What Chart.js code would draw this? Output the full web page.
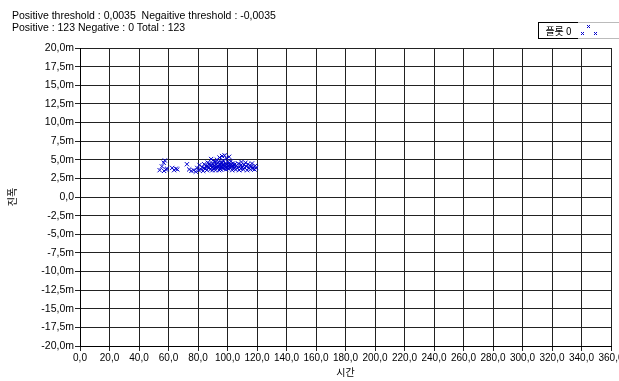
<!DOCTYPE html>
<html><head><meta charset="utf-8">
<script src="https://cdn.jsdelivr.net/npm/chart.js@4/dist/chart.umd.min.js"></script>
<style>
html,body{margin:0;padding:0;background:#fff;width:619px;height:381px;overflow:hidden;}
#wrap{position:relative;width:619px;height:381px;}
canvas{position:absolute;left:0;top:0;}
.hdr{position:absolute;left:12px;font-family:"Liberation Sans",Arial,sans-serif;font-size:10.5px;color:#000;white-space:pre;line-height:12px;}
#leg{position:absolute;left:538px;top:22px;width:39px;height:15px;border:1px solid #000;background:#fff;font-family:"Noto Sans CJK KR","Liberation Sans",sans-serif;font-size:10px;line-height:15px;text-align:center;color:#000;}
#legm{position:absolute;left:578px;top:22px;width:41px;height:15px;border-top:1px solid #bbb;border-bottom:1px solid #bbb;background:#fff;}
</style></head>
<body><div id="wrap">
<canvas id="c" width="619" height="381"></canvas>
<div class="hdr" style="top:9px">Positive threshold : 0,0035  Negaitive threshold : -0,0035</div>
<div class="hdr" style="top:21px">Positive : 123 Negative : 0 Total : 123</div>
<div id="leg">플롯 0</div>
<div id="legm"><svg width="41" height="15"><g stroke="#0000cc" stroke-width="1"><path d="M3 9l3 3M6 9l-3 3M9 2l3 3M12 2l-3 3M16 9l3 3M19 9l-3 3"/></g></svg></div>
</div>
<script>
const xTickLabels = ["0,0","20,0","40,0","60,0","80,0","100,0","120,0","140,0","160,0","180,0","200,0","220,0","240,0","260,0","280,0","300,0","320,0","340,0","360,0"];
const yTickLabels = ["-20,0m","-17,5m","-15,0m","-12,5m","-10,0m","-7,5m","-5,0m","-2,5m","0,0","2,5m","5,0m","7,5m","10,0m","12,5m","15,0m","17,5m","20,0m"];
const seriesName = "플롯 0";
// time (x) values
const timeValues = [
54.0,55.5,56.8,57.5,58.2,57.0,59.0,62.5,63.8,65.0,66.0,
72.5,74.0,75.5,77.0,78.5,79.5,80.5,81.0,
82.0,82.8,83.5,84.2,84.8,85.5,86.0,86.6,87.2,87.8,88.3,88.9,89.4,90.0,90.5,91.0,91.4,91.9,92.3,92.8,93.2,93.7,94.1,94.6,95.0,95.4,95.9,96.3,96.8,97.2,97.6,98.0,98.5,98.9,99.3,99.8,100.2,100.6,101.1,101.5,101.9,102.4,102.8,103.2,103.7,104.1,104.6,105.0,
86.3,88.0,89.8,90.8,92.0,93.5,94.8,95.7,96.5,97.5,98.2,99.1,100.0,100.9,101.8,102.6,103.5,97.0,95.2,93.0,
105.6,106.2,106.8,107.3,107.9,108.4,108.9,109.5,110.0,110.6,111.1,111.7,112.2,112.8,113.3,113.9,114.4,115.0,115.5,116.1,116.6,117.2,117.7,118.3,118.8,119.4,
84.0,87.0,89.0,91.6,94.3,96.0,98.7,100.4,104.4,109.2
];
// amplitude values in milli-units (m)
const amplitudeValues = [
3.6,4.1,4.6,4.9,3.7,3.5,3.8,3.9,3.6,3.8,3.7,
4.4,3.7,3.5,3.6,3.4,3.9,3.6,4.3,
3.7,4.0,3.5,4.4,3.8,4.1,3.6,4.6,3.9,4.3,3.7,5.1,4.0,4.5,3.8,4.8,4.2,3.6,4.4,5.0,3.9,4.6,4.1,5.3,3.8,4.7,4.3,5.5,3.9,4.9,4.2,5.6,4.5,3.7,5.2,4.0,4.7,3.8,5.4,4.3,3.9,4.8,4.1,3.6,4.5,4.0,3.8,4.4,
4.2,4.5,3.6,4.1,4.7,4.2,4.4,4.0,4.6,3.8,4.1,4.4,3.9,4.5,4.1,4.4,4.2,4.3,3.7,4.1,
3.7,4.2,3.9,4.5,3.6,4.1,3.8,4.7,4.0,3.7,4.3,3.9,4.6,4.1,3.6,4.4,3.9,4.2,3.7,4.1,4.5,3.8,4.0,3.7,4.2,3.9,
3.9,4.0,4.2,3.9,3.6,4.1,4.0,4.2,4.3,4.3
];
const points = timeValues.map((t,i)=>({x:t,y:amplitudeValues[i]}));
const tickFont = {family:"Liberation Sans, Arial, sans-serif", size:10.5};
const xTickFont = {family:"Liberation Sans, Arial, sans-serif", size:10};
new Chart(document.getElementById('c'), {
  type:'scatter',
  data:{datasets:[{label:seriesName,data:points,pointStyle:'crossRot',pointRadius:3,pointBorderColor:'#0000cc',pointBackgroundColor:'#0000cc',pointBorderWidth:1,showLine:false}]},
  options:{
    responsive:false, animation:false, devicePixelRatio:1,
    layout:{padding:{left:0,right:8,top:48,bottom:3}},
    plugins:{legend:{display:false},tooltip:{enabled:false}},
    scales:{
      x:{type:'linear',min:0,max:360,
        afterBuildTicks:s=>{s.ticks=xTickLabels.map((l,i)=>({value:i*20}));},
        afterFit:s=>{s.height=32;s.paddingLeft=0;s.paddingRight=0;},
        ticks:{autoSkip:false,maxRotation:0,padding:1,color:'#000',font:xTickFont,callback:(v,i)=>xTickLabels[i]},
        grid:{color:'#222',lineWidth:1,tickLength:5,tickColor:'#222'},
        border:{color:'#000',width:1},
        title:{display:true,text:'시간',color:'#000',font:{family:"Noto Sans CJK KR, sans-serif",size:10},padding:{top:0,bottom:0}}
      },
      y:{type:'linear',min:-20,max:20,
        afterBuildTicks:s=>{s.ticks=yTickLabels.map((l,i)=>({value:-20+i*2.5}));},
        afterFit:s=>{s.width=80;s.paddingTop=0;s.paddingBottom=0;},
        ticks:{autoSkip:false,padding:1,color:'#000',font:tickFont,callback:(v,i)=>yTickLabels[i]},
        grid:{color:'#222',lineWidth:1,tickLength:5,tickColor:'#222'},
        border:{color:'#000',width:1},
        title:{display:true,text:'진폭',color:'#000',font:{family:"Noto Sans CJK KR, sans-serif",size:10},padding:{top:6,bottom:0}}
      }
    }
  }
});
</script>
</body></html>
